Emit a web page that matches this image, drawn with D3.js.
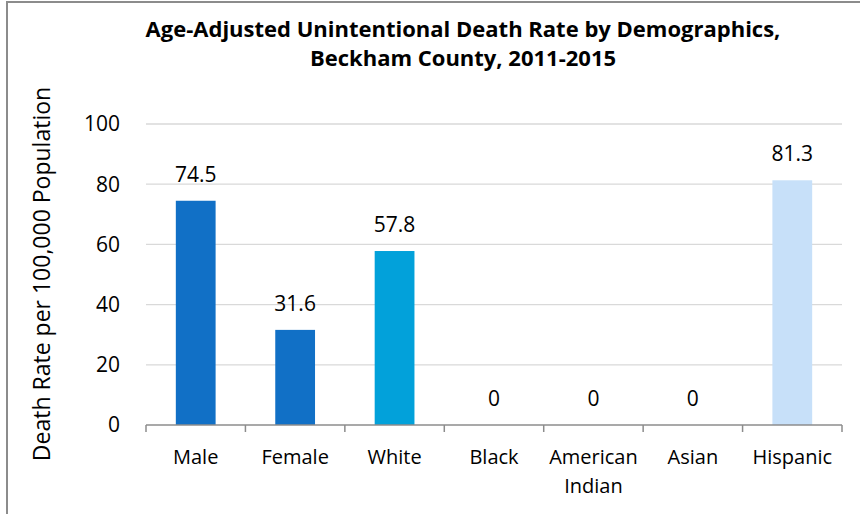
<!DOCTYPE html>
<html>
<head>
<meta charset="utf-8">
<script src="https://cdn.jsdelivr.net/npm/d3@7"></script>
<style>
  body { margin: 0; background: #fff; }
  svg text { font-family: "Open Sans", "Noto Sans", sans-serif; fill: #000; }
</style>
</head>
<body>
<div id="chart"></div>
<script>
// data
var categories = ["Male", "Female", "White", "Black", "American Indian", "Asian", "Hispanic"];
var rates = [74.5, 31.6, 57.8, 0, 0, 0, 81.3];
var barColors = ["#1170c6", "#1170c6", "#02a1da", "#1170c6", "#1170c6", "#1170c6", "#c7e0f9"];
var yTicks = [0, 20, 40, 60, 80, 100];
var titleLines = ["Age-Adjusted Unintentional Death Rate by Demographics,", "Beckham County, 2011-2015"];
var yTitle = "Death Rate per 100,000 Population";

var width = 860, height = 514;

var svg = d3.select("#chart").append("svg")
    .attr("width", width)
    .attr("height", height);

// outer frame (right and bottom edges fall outside the picture)
svg.append("rect")
    .attr("x", 7).attr("y", 2)
    .attr("width", 900).attr("height", 600)
    .attr("fill", "none")
    .attr("stroke", "#8c8c8c")
    .attr("stroke-width", 2);

var x = d3.scaleBand().domain(categories).range([146, 842]).paddingInner(0.6).paddingOuter(0.3);
var y = d3.scaleLinear().domain([0, 100]).range([425, 124]);

// gridlines
svg.append("g")
    .selectAll("line")
    .data(yTicks.filter(function(d) { return d > 0; }))
    .join("line")
    .attr("x1", 146).attr("x2", 842)
    .attr("y1", function(d) { return y(d); })
    .attr("y2", function(d) { return y(d); })
    .attr("stroke", "#d9d9d9")
    .attr("stroke-width", 1.3);

// y tick labels
svg.append("g")
    .selectAll("text")
    .data(yTicks)
    .join("text")
    .attr("x", 120)
    .attr("y", function(d) { return y(d); })
    .attr("dy", "0.35em")
    .attr("text-anchor", "end")
    .style("font-size", "21px")
    .text(function(d) { return d; });

// bars
svg.append("g")
    .selectAll("rect")
    .data(rates)
    .join("rect")
    .attr("x", function(d, i) { return x(categories[i]); })
    .attr("width", x.bandwidth())
    .attr("y", function(d) { return y(d); })
    .attr("height", function(d) { return y(0) - y(d); })
    .attr("fill", function(d, i) { return barColors[i]; });

// value labels
svg.append("g")
    .selectAll("text")
    .data(rates)
    .join("text")
    .attr("x", function(d, i) { return x(categories[i]) + x.bandwidth() / 2; })
    .attr("y", function(d) { return y(d) - 19; })
    .attr("text-anchor", "middle")
    .style("font-size", "21px")
    .text(function(d) { return d; });

// x axis line with tick marks between categories
var edges = d3.range(categories.length + 1).map(function(i) { return 146 + i * (696 / categories.length); });
svg.append("line")
    .attr("x1", 146).attr("x2", 842)
    .attr("y1", y(0)).attr("y2", y(0))
    .attr("stroke", "#8c8c8c").attr("stroke-width", 1.5);
svg.append("g")
    .selectAll("line")
    .data(edges)
    .join("line")
    .attr("x1", function(d) { return d; }).attr("x2", function(d) { return d; })
    .attr("y1", y(0)).attr("y2", y(0) + 7)
    .attr("stroke", "#8c8c8c").attr("stroke-width", 1.5);

// category labels (wrapped at space for long names)
svg.append("g")
    .selectAll("text")
    .data(categories)
    .join("text")
    .attr("x", function(d) { return x(d) + x.bandwidth() / 2; })
    .attr("y", 464)
    .attr("text-anchor", "middle")
    .style("font-size", "20px")
    .each(function(d) {
        var words = d.split(" ");
        var el = d3.select(this);
        var cx = el.attr("x");
        words.forEach(function(w, i) {
            el.append("tspan").attr("x", cx).attr("dy", i === 0 ? 0 : 29).text(w);
        });
    });

// title
svg.append("g")
    .selectAll("text")
    .data(titleLines)
    .join("text")
    .attr("x", 463)
    .attr("y", function(d, i) { return 37 + i * 29; })
    .attr("text-anchor", "middle")
    .style("font-size", "22px")
    .style("font-weight", "bold")
    .text(function(d) { return d; });

// y axis title
svg.append("text")
    .attr("transform", "translate(50,274) rotate(-90)")
    .attr("text-anchor", "middle")
    .style("font-size", "23px")
    .text(yTitle);
</script>
</body>
</html>
